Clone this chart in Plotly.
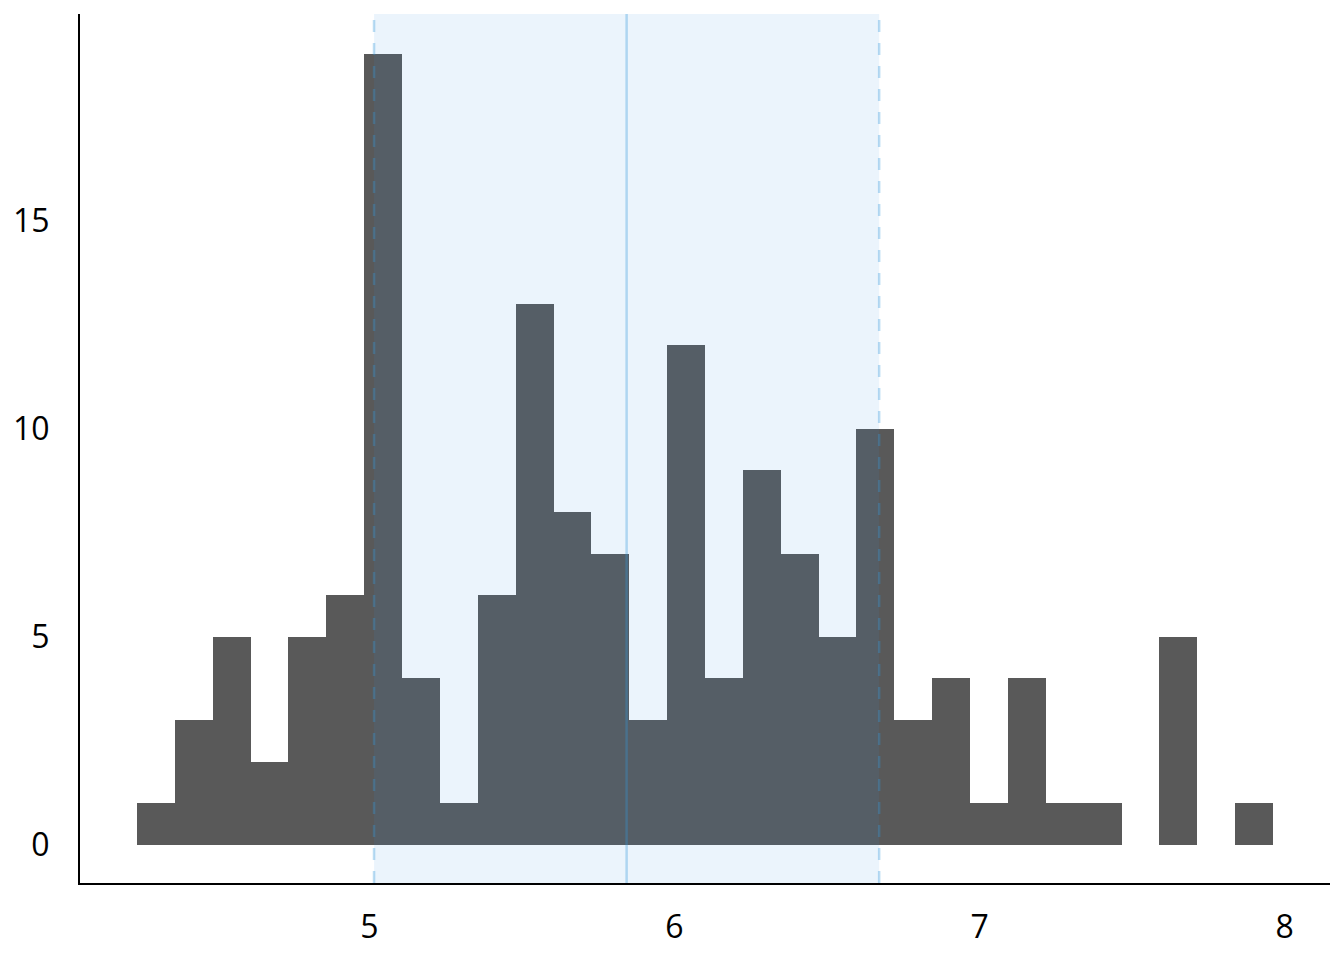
import numpy as np
import plotly.graph_objects as go

# Histogram of sepal length (30 bins spanning 4.3 .. 7.9)
bin_min = 4.3
bin_max = 7.9
counts = [1, 3, 5, 2, 5, 6, 19, 4, 1, 6, 13, 8, 7, 3, 12,
          4, 9, 7, 5, 10, 3, 4, 1, 4, 1, 1, 0, 5, 0, 1]
mean_val = 5.843
std_val = 0.828
x_ticks = [5, 6, 7, 8]
y_ticks = [0, 5, 10, 15]

n_bins = len(counts)
width = (bin_max - bin_min) / (n_bins - 1)
centers = np.linspace(bin_min, bin_max, n_bins)

fig = go.Figure()
fig.add_trace(go.Bar(x=centers, y=counts, width=width,
                     marker=dict(color="#595959", line=dict(width=0)),
                     showlegend=False, hoverinfo="x+y"))

lo, hi = mean_val - std_val, mean_val + std_val
fig.add_shape(type="rect", xref="x", yref="paper", x0=lo, x1=hi, y0=0, y1=1,
              fillcolor="rgba(55,145,225,0.1)", line=dict(width=0), layer="above")
line_col = "rgba(52,152,219,0.33)"
for xv, dash in [(lo, "12px,11px"), (hi, "12px,11px"), (mean_val, "solid")]:
    fig.add_shape(type="line", xref="x", yref="paper", x0=xv, x1=xv, y0=0, y1=1,
                  line=dict(color=line_col, width=2.5, dash=dash), layer="above")

x_pad = 0.1869
fig.update_layout(
    width=1344, height=960,
    margin=dict(l=72, r=22, t=6, b=85),
    paper_bgcolor="white", plot_bgcolor="white",
    bargap=0,
    font=dict(family="Open Sans", size=32, color="black"),
    xaxis=dict(range=[bin_min - width / 2 - x_pad, bin_max + width / 2 + x_pad],
               tickvals=x_ticks, showgrid=False, zeroline=False,
               showline=True, linecolor="black", linewidth=2,
               ticks="outside", ticklen=15, tickcolor="rgba(0,0,0,0)"),
    yaxis=dict(range=[-0.913, 19.96], tickvals=y_ticks, showgrid=False, zeroline=False,
               showline=True, linecolor="black", linewidth=2,
               ticks="outside", ticklen=22, tickcolor="rgba(0,0,0,0)"),
)
fig.write_html("out.html")
